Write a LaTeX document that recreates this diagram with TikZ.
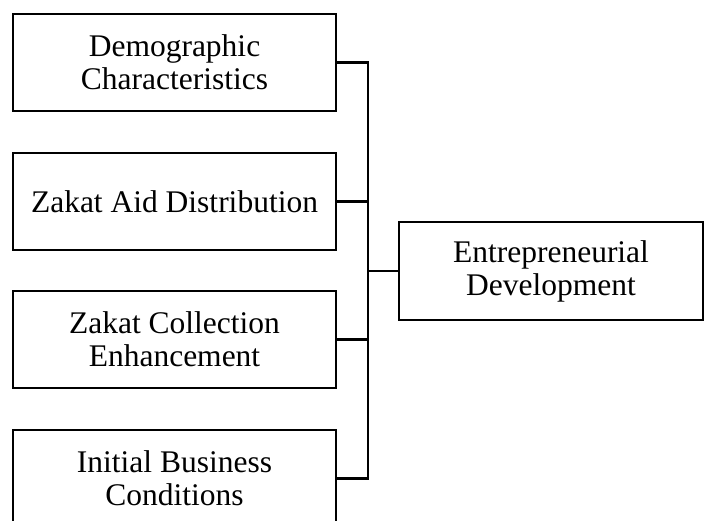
\documentclass[tikz,border=0pt]{standalone}
\usepackage{fontspec}
\setmainfont{Liberation Serif}
\begin{document}
\begin{tikzpicture}[x=1bp,y=-1bp,
  box/.style={draw,line width=2.2bp,minimum width=323bp,minimum height=97bp,align=center,inner sep=0pt,
    font=\fontsize{31.5bp}{33bp}\selectfont},
  link/.style={line width=2.2bp}]
\useasboundingbox (0,0) rectangle (712,521);
\clip (0,0) rectangle (712,521);
\node[box] (b1) at (174.5,62.5) {Demographic\\Characteristics};
\node[box] (b2) at (174.5,201.5) {Zakat Aid Distribution};
\node[box] (b3) at (174.5,339.5) {Zakat Collection\\Enhancement};
\node[box] (b4) at (174.5,478.5) {Initial Business\\Conditions};
\node[box,minimum width=304bp,minimum height=98bp] (r) at (551,271) {Entrepreneurial\\Development};
\coordinate (top) at (368,62.5);
\coordinate (bot) at (368,478.5);
\coordinate (mid) at (368,271);
\draw[link] (b1.east) -- (top) -- (bot) -- (b4.east);
\draw[link] (b2.east) -- (b2.east -| top);
\draw[link] (b3.east) -- (b3.east -| top);
\draw[link] (mid) -- (r.west);
\end{tikzpicture}
\end{document}
